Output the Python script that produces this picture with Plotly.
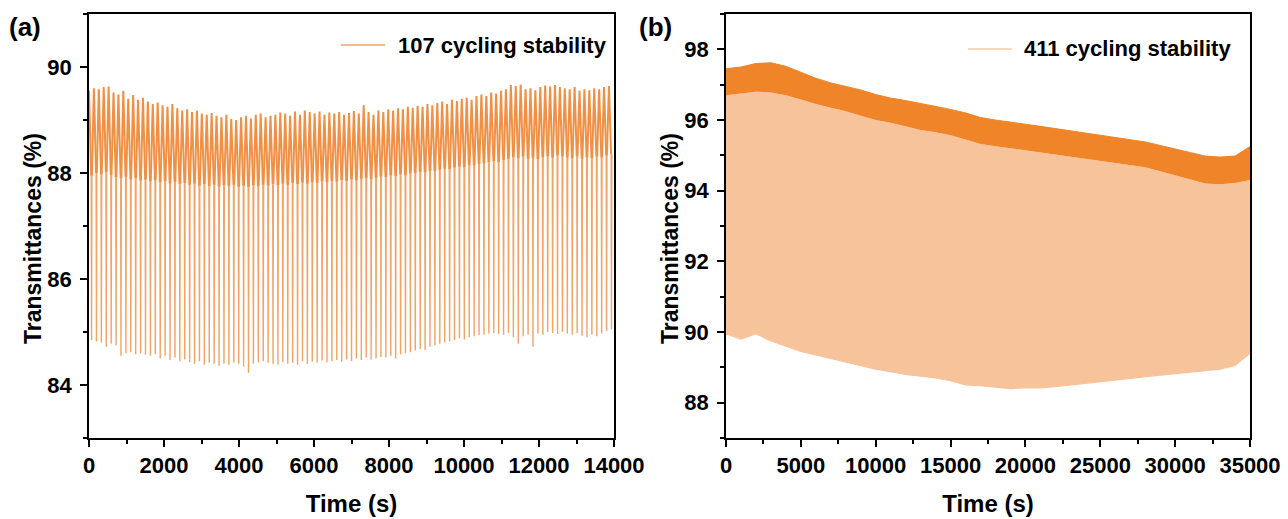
import plotly.graph_objects as go

# ---------------- Panel (a): 107 cycling stability ----------------
cycle_period_a = 130.8  # seconds per switching cycle
peak_a = [89.55, 89.60, 89.58, 89.62, 89.63, 89.52, 89.48, 89.55, 89.40, 89.47,
          89.38, 89.42, 89.35, 89.30, 89.33, 89.28, 89.25, 89.30, 89.22, 89.18,
          89.20, 89.15, 89.18, 89.12, 89.10, 89.13, 89.08, 89.05, 89.10, 89.02,
          89.00, 89.05, 89.08, 89.03, 89.10, 89.12, 89.05, 89.08, 89.10, 89.14,
          89.12, 89.08, 89.16, 89.10, 89.18, 89.15, 89.12, 89.16, 89.10, 89.14,
          89.12, 89.15, 89.10, 89.13, 89.17, 89.12, 89.28, 89.15, 89.10, 89.18,
          89.15, 89.20, 89.18, 89.22, 89.20, 89.25, 89.23, 89.27, 89.25, 89.30,
          89.28, 89.32, 89.35, 89.30, 89.38, 89.36, 89.40, 89.42, 89.38, 89.45,
          89.48, 89.45, 89.52, 89.50, 89.55, 89.58, 89.66, 89.64, 89.67, 89.58,
          89.60, 89.56, 89.62, 89.65, 89.63, 89.66, 89.62, 89.60, 89.58, 89.62,
          89.55, 89.58, 89.56, 89.60, 89.58, 89.62, 89.64]
settle_a = [87.95, 88.00, 87.97, 88.02, 87.96, 87.92, 87.90, 87.93, 87.88, 87.90,
            87.86, 87.88, 87.84, 87.86, 87.82, 87.84, 87.80, 87.83, 87.79, 87.81,
            87.78, 87.80, 87.76, 87.79, 87.75, 87.78, 87.74, 87.77, 87.75, 87.78,
            87.74, 87.76, 87.73, 87.77, 87.75, 87.78, 87.76, 87.79, 87.77, 87.80,
            87.78, 87.81, 87.79, 87.82, 87.80, 87.83, 87.81, 87.84, 87.82, 87.85,
            87.84, 87.87, 87.85, 87.88, 87.86, 87.89, 87.90, 87.88, 87.91, 87.93,
            87.92, 87.95, 87.94, 87.97, 87.96, 87.99, 88.00, 88.02, 88.01, 88.04,
            88.03, 88.06, 88.08, 88.07, 88.10, 88.12, 88.11, 88.14, 88.15, 88.17,
            88.18, 88.20, 88.22, 88.21, 88.24, 88.26, 88.30, 88.28, 88.31, 88.27,
            88.28, 88.26, 88.30, 88.32, 88.29, 88.33, 88.31, 88.30, 88.28, 88.31,
            88.27, 88.29, 88.28, 88.31, 88.30, 88.33, 88.35]
trough_a = [84.85, 84.82, 84.80, 84.72, 84.78, 84.75, 84.55, 84.60, 84.62, 84.58,
            84.60, 84.57, 84.55, 84.58, 84.50, 84.55, 84.47, 84.52, 84.45, 84.48,
            84.43, 84.40, 84.45, 84.38, 84.42, 84.40, 84.36, 84.40, 84.38, 84.42,
            84.40, 84.35, 84.23, 84.40, 84.43, 84.45, 84.42, 84.40, 84.38, 84.43,
            84.40, 84.42, 84.38, 84.45, 84.40, 84.44, 84.42, 84.46, 84.43, 84.45,
            84.47, 84.44, 84.48, 84.45, 84.50, 84.47, 84.52, 84.48, 84.50, 84.53,
            84.52, 84.55, 84.50, 84.58, 84.60, 84.62, 84.65, 84.68, 84.66, 84.72,
            84.75, 84.78, 84.80, 84.82, 84.85, 84.88, 84.86, 84.90, 84.92, 84.94,
            84.95, 84.97, 84.98, 84.96, 84.95, 84.98, 84.90, 84.78, 84.92, 84.95,
            84.72, 84.97, 84.95, 85.00, 84.98, 84.96, 85.00, 84.97, 84.95, 84.98,
            84.93, 84.90, 84.95, 84.92, 84.97, 85.02, 85.05]
# timing inside one cycle (fractions of the period): decay to settled level,
# fast colouring to the trough, fast recovery, then slow bleaching to next peak
settle_frac = 0.45
trough_frac = 0.52
recover_frac = 0.59

# ---------------- Panel (b): 411 cycling stability ----------------
time_b = [0, 1000, 2000, 3000, 4000, 5000, 6000, 7000, 8000, 9000,
          10000, 11000, 12000, 13000, 14000, 15000, 16000, 17000, 18000, 19000,
          20000, 21000, 22000, 23000, 24000, 25000, 26000, 27000, 28000, 29000,
          30000, 31000, 32000, 33000, 34000, 35000]
band_top_b = [97.45, 97.50, 97.60, 97.62, 97.52, 97.35, 97.18, 97.05, 96.95, 96.85,
              96.72, 96.62, 96.55, 96.47, 96.38, 96.30, 96.20, 96.07, 96.00, 95.95,
              95.88, 95.82, 95.76, 95.70, 95.62, 95.56, 95.50, 95.44, 95.38, 95.28,
              95.17, 95.08, 94.98, 94.95, 94.98, 95.25]
band_bot_b = [96.70, 96.75, 96.80, 96.78, 96.70, 96.58, 96.45, 96.35, 96.25, 96.12,
              96.00, 95.92, 95.82, 95.72, 95.65, 95.57, 95.45, 95.32, 95.26, 95.20,
              95.15, 95.09, 95.03, 94.97, 94.90, 94.83, 94.77, 94.72, 94.66, 94.55,
              94.43, 94.30, 94.20, 94.18, 94.22, 94.30]
trough_b = [89.95, 89.80, 89.95, 89.75, 89.60, 89.45, 89.35, 89.25, 89.15, 89.05,
            88.95, 88.88, 88.80, 88.75, 88.70, 88.62, 88.50, 88.48, 88.45, 88.40,
            88.42, 88.42, 88.45, 88.50, 88.55, 88.60, 88.65, 88.70, 88.73, 88.78,
            88.82, 88.86, 88.90, 88.95, 89.05, 89.40]

x_ticks_a = [0, 2000, 4000, 6000, 8000, 10000, 12000, 14000]
x_ticks_b = [0, 5000, 10000, 15000, 20000, 25000, 30000, 35000]
y_ticks_a = [84, 86, 88, 90]
y_ticks_b = [88, 90, 92, 94, 96, 98]
legend_a = "107 cycling stability"
legend_b = "411 cycling stability"
x_title = "Time (s)"
y_title = "Transmittances (%)"

# ---------------- build waveform for (a) ----------------
# bleached-state part (dense band) and colouring spikes as two line layers
xa_band, ya_band, xa_spk, ya_spk = [], [], [], []
for i, (p, s, tr) in enumerate(zip(peak_a, settle_a, trough_a)):
    t0 = i * cycle_period_a
    ts = t0 + settle_frac * cycle_period_a
    tt = t0 + trough_frac * cycle_period_a
    trc = t0 + recover_frac * cycle_period_a
    xa_band += [t0, ts, None, trc]
    ya_band += [p, s, None, s]
    xa_spk += [ts, tt, trc, None]
    ya_spk += [s, tr, s, None]

ORANGE = "#EE8530"
PEACH = "#F7C39B"
FONT = "Liberation Sans, Arial, sans-serif"

fig = go.Figure()
fig.add_trace(go.Scatter(x=xa_spk, y=ya_spk, mode="lines", name=legend_a,
                         line=dict(color="#F2A05F", width=1.4), opacity=0.95,
                         connectgaps=False, showlegend=False, xaxis="x", yaxis="y"))
fig.add_trace(go.Scatter(x=xa_band, y=ya_band, mode="lines", name=legend_a,
                         line=dict(color=ORANGE, width=2.0), opacity=0.9,
                         connectgaps=False, showlegend=False, xaxis="x", yaxis="y"))

fig.add_trace(go.Scatter(x=time_b, y=trough_b, mode="lines", name=legend_b,
                         line=dict(color=PEACH, width=1.2), showlegend=False,
                         xaxis="x2", yaxis="y2"))
fig.add_trace(go.Scatter(x=time_b, y=band_bot_b, mode="lines", fill="tonexty",
                         fillcolor=PEACH, line=dict(width=0), showlegend=False,
                         xaxis="x2", yaxis="y2"))
fig.add_trace(go.Scatter(x=time_b, y=band_top_b, mode="lines", fill="tonexty",
                         fillcolor="#EF8528", line=dict(color="#EF8528", width=1),
                         showlegend=False, xaxis="x2", yaxis="y2"))

axis_common = dict(showline=True, linecolor="black", linewidth=1.6, mirror=True,
                   ticks="outside", ticklen=7, tickwidth=1.6, tickcolor="black",
                   showgrid=False, zeroline=False, tickformat="d", automargin=False,
                   tickfont=dict(family=FONT, size=22, color="black", weight="bold"))
minor_common = dict(ticks="outside", ticklen=4, tickwidth=1.6, tickcolor="black", showgrid=False)

ydom = [1 - 438 / 519, 1 - 14 / 519]
title_font_x = dict(family=FONT, size=24, color="black", weight="bold")
title_font_y = dict(family=FONT, size=23, color="black", weight="bold")
legend_font = dict(family=FONT, size=22, color="black", weight="bold")
label_font = dict(family=FONT, size=26, color="black", weight="bold")


def px(x):
    return x / 1288


def py(y):
    return 1 - y / 519


def note(text, x, y, font, xanchor="left", angle=0):
    return dict(text=text, x=px(x), y=py(y), xref="paper", yref="paper",
                xanchor=xanchor, yanchor="middle", showarrow=False,
                textangle=angle, font=font)


fig.update_layout(
    width=1288, height=519, autosize=False, showlegend=False,
    margin=dict(l=0, r=0, t=0, b=0, autoexpand=False),
    paper_bgcolor="white", plot_bgcolor="white",
    xaxis=dict(domain=[px(89), px(614)], range=[0, 14000], tickvals=x_ticks_a,
               minor=dict(dtick=1000, **minor_common), anchor="y",
               title=dict(text=x_title, standoff=18, font=title_font_x),
               **axis_common),
    yaxis=dict(domain=ydom, range=[83, 91], tickvals=y_ticks_a, ticklabelstandoff=4,
               minor=dict(dtick=1, tick0=83, **minor_common), anchor="x",
               **axis_common),
    xaxis2=dict(domain=[px(726), px(1250)], range=[0, 35000], tickvals=x_ticks_b,
                minor=dict(dtick=2500, **minor_common), anchor="y2",
                title=dict(text=x_title, standoff=18, font=title_font_x),
                **axis_common),
    yaxis2=dict(domain=ydom, range=[87, 99], tickvals=y_ticks_b, ticklabelstandoff=4,
                minor=dict(dtick=1, tick0=87, **minor_common), anchor="x2",
                **axis_common),
    shapes=[
        dict(type="line", xref="paper", yref="paper", x0=px(341), x1=px(385),
             y0=py(45), y1=py(45), line=dict(color="#F4A263", width=1.5)),
        dict(type="line", xref="paper", yref="paper", x0=px(968), x1=px(1012),
             y0=py(49), y1=py(49), line=dict(color="#F8CBA6", width=1.5)),
    ],
    annotations=[
        note(legend_a, 396, 45, legend_font),
        note(legend_b, 1022, 49, legend_font),
        note("(a)", 7, 27, label_font),
        note("(b)", 637, 27, label_font),
        note(y_title, 33, 239, title_font_y, xanchor="center", angle=-90),
        note(y_title, 670, 239, title_font_y, xanchor="center", angle=-90),
    ],
)

fig.write_html("out.html")
